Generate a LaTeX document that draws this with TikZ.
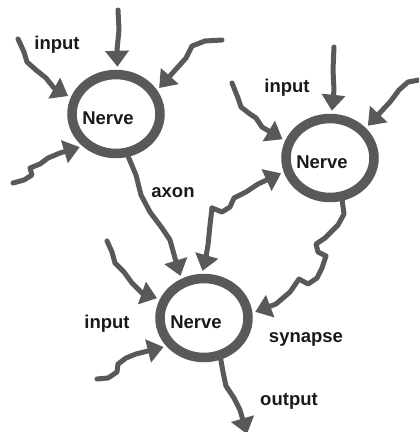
\documentclass[tikz,border=0pt]{standalone}
\usepackage{fontspec}
\setmainfont{Liberation Sans}
\usepackage{tikz}
\usetikzlibrary{arrows.meta, positioning, shapes.geometric}
\definecolor{nervegray}{HTML}{595959}
\definecolor{inkdark}{HTML}{1A1A1A}

\begin{document}
\begin{tikzpicture}[
  x=1pt, y=-1pt,
  nerve/.style={draw=nervegray, ellipse, line width=9.5pt, minimum width=88pt, minimum height=79pt, inner sep=0pt},
  ntxt/.style={font=\fontsize{18.5}{21}\selectfont\bfseries\color{inkdark}},
  lbl/.style={font=\fontsize{18.5}{21}\selectfont\bfseries\color{inkdark}},
  fibre/.style={draw=nervegray, line width=5pt, line join=round, line cap=round, -{Triangle[length=16pt, width=23pt]}, shorten >=3pt}
]
\useasboundingbox (0,0) rectangle (419,432);

\node[nerve] (n1) at (116,114) {};
\node[ntxt] (n1txt) at (108,118) {Nerve};
\node[nerve] (n2) at (330,158) {};
\node[ntxt] (n2txt) at (322,162) {Nerve};
\node[nerve] (n3) at (204,318) {};
\node[ntxt] (n3txt) at (196,322) {Nerve};

\coordinate (i1a) at (118,10);
\coordinate (i1b) at (222,40);
\coordinate (i1c) at (18,39);
\coordinate (i1d) at (13,183);
\coordinate (i2a) at (334,47);
\coordinate (i2b) at (419,80);
\coordinate (i2c) at (232,83);
\coordinate (jn) at (212,208);
\coordinate (i3a) at (107,241);
\coordinate (i3b) at (97,379);
\coordinate (out) at (247,434);

\draw[fibre] (i1a) -- (119,30) -- (117,50) -- (n1.88);
\draw[fibre] (i1b) -- (205,41) -- (192,46) -- (186,58) -- (n1.30);
\draw[fibre] (i1c) -- (24,52) -- (27,62) -- (36,70) -- (46,78) -- (54,88) -- (n1.160);
\draw[fibre] (i1d) -- (24,180) -- (32,175) -- (30,168) -- (40,164) -- (48,158) -- (60,153) -- (n1.224);
\draw[fibre] (n1.286) -- (136,175) -- (141,195) -- (150,212) -- (162,228) -- (170,240) -- (175,258) -- (n3.120);

\draw[fibre] (i2a) -- (333,70) -- (334,90) -- (n2.88);
\draw[fibre] (i2b) -- (408,82) -- (399,90) -- (390,102) -- (n2.40);
\draw[fibre] (i2c) -- (238,98) -- (241,107) -- (250,114) -- (256,118) -- (262,127) -- (n2.159);
\draw[fibre] (jn) -- (222,212) -- (230,207) -- (234,198) -- (246,192) -- (258,184) -- (n2.197);
\draw[fibre] (jn) -- (210,225) -- (208,245) -- (205,262) -- (n3.93);
\draw[fibre] (n2.286) -- (344,214) -- (338,225) -- (325,238) -- (316,244) -- (318,252) -- (326,256) -- (322,268) -- (317,278) -- (308,284) -- (299,279) -- (290,292) -- (276,304) -- (n3.6);

\draw[fibre] (i3a) -- (112,252) -- (115,263) -- (124,272) -- (132,283) -- (142,293) -- (n3.157);
\draw[fibre] (i3b) -- (108,378) -- (117,372) -- (118,364) -- (126,358) -- (136,354) -- (n3.217);
\draw[fibre, shorten >=0pt] (n3.292) -- (223,372) -- (226,386) -- (234,398) -- (240,410) -- (out);

\node[lbl] (in1) at (57,45) {input};
\node[lbl] (ax) at (173,193) {axon};
\node[lbl] (in2) at (287,88) {input};
\node[lbl] (in3) at (107,324) {input};
\node[lbl] (syn) at (306,339) {synapse};
\node[lbl] (outl) at (289,401) {output};
\end{tikzpicture}
\end{document}
